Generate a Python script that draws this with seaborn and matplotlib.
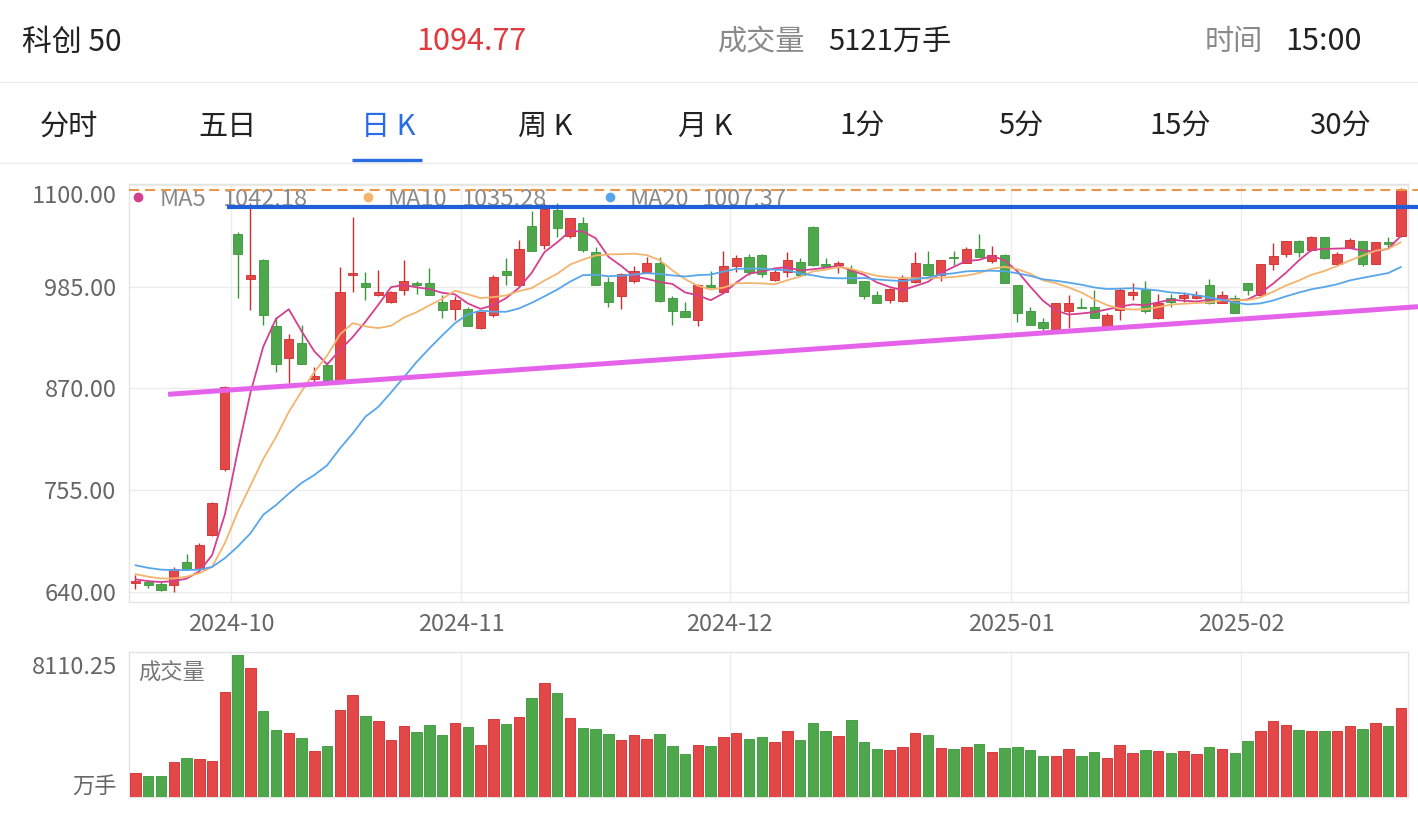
import numpy as np
import pandas as pd
import matplotlib
matplotlib.use("Agg")
import matplotlib.pyplot as plt
from matplotlib.lines import Line2D
import seaborn as sns

# ----------------------------------------------
# Data (科创50, daily K, 2024-09-19 .. 2025-02-21)
# ----------------------------------------------
open_ = [650, 651, 649, 648, 674, 666, 704, 779, 1045, 994,
         1015, 940, 904, 921, 880, 896, 879, 998, 989, 975,
         968, 981, 989, 989, 968, 960, 960, 938, 953, 1003,
         987, 1054, 1032, 1072, 1042, 1057, 1024, 990, 974, 991,
         1002, 1012, 972, 957, 947, 987, 979, 1008, 1018, 1021,
         992, 1002, 1013, 1052, 1010, 1009, 1004, 991, 975, 970,
         969, 990, 1011, 998, 1019, 1012, 1028, 1014, 1021, 987,
         957, 945, 937, 957, 962, 962, 940, 959, 976, 981,
         949, 972, 972, 972, 987, 966, 972, 989, 975, 1010,
         1022, 1036, 1026, 1041, 1011, 1030, 1036, 1010, 1035, 1042]
high = [659, 653, 651, 668, 683, 695, 742, 873, 1047, 1080,
        1016, 951, 931, 942, 894, 900, 1007, 1064, 1002, 1004,
        980, 1015, 991, 1006, 975, 974, 962, 957, 998, 1017,
        1038, 1070, 1080, 1079, 1062, 1064, 1030, 996, 1000, 1008,
        1019, 1018, 974, 968, 988, 1003, 1025, 1021, 1022, 1022,
        1004, 1024, 1017, 1053, 1017, 1014, 1009, 991, 980, 983,
        998, 1024, 1025, 1015, 1025, 1030, 1044, 1031, 1022, 987,
        962, 949, 966, 976, 972, 981, 955, 983, 989, 991,
        977, 977, 979, 980, 994, 980, 975, 989, 1011, 1034,
        1036, 1038, 1042, 1041, 1024, 1040, 1037, 1035, 1041, 1097]
low = [643, 644, 641, 640, 665, 665, 703, 776, 972, 958,
       942, 889, 876, 898, 877, 878, 878, 979, 970, 974,
       967, 975, 977, 975, 949, 947, 940, 937, 951, 987,
       985, 1025, 1028, 1041, 1040, 1024, 987, 962, 960, 989,
       1000, 968, 942, 951, 941, 983, 979, 1002, 998, 996,
       991, 996, 998, 1008, 1007, 1000, 989, 971, 966, 966,
       968, 989, 998, 991, 1009, 1012, 1018, 1012, 989, 945,
       942, 935, 936, 938, 961, 950, 940, 947, 970, 955,
       948, 962, 968, 971, 965, 966, 955, 975, 974, 1004,
       1019, 1019, 1025, 1016, 1009, 1030, 1008, 1010, 1027, 1041]
close = [652, 648, 642, 666, 666, 693, 740, 872, 1022, 998,
         953, 898, 926, 898, 884, 879, 979, 1000, 985, 979,
         979, 991, 987, 975, 958, 970, 940, 956, 996, 998,
         1028, 1025, 1073, 1051, 1062, 1026, 987, 968, 999, 1003,
         1012, 969, 957, 951, 987, 984, 1008, 1017, 1002, 999,
         1002, 1015, 998, 1009, 1008, 1012, 989, 974, 966, 982,
         994, 1012, 998, 1015, 1017, 1028, 1018, 1021, 989, 955,
         942, 938, 966, 966, 961, 950, 953, 981, 979, 957,
         966, 968, 975, 975, 966, 975, 955, 981, 1011, 1020,
         1036, 1024, 1041, 1017, 1022, 1038, 1011, 1035, 1033, 1094.77]
volume = [1374, 1221, 1183, 2004, 2233, 2175, 2061, 6011, 8110.25, 7404,
          4904, 3855, 3645, 3397, 2633, 2939, 5000, 5858, 4656, 4370,
          3244, 4046, 3721, 4141, 3568, 4217, 4007, 2958, 4446, 4160,
          4580, 5668, 6507, 5973, 4503, 3969, 3912, 3626, 3244, 3549,
          3340, 3626, 2901, 2481, 2996, 2901, 3416, 3683, 3340, 3454,
          3130, 3759, 3244, 4217, 3797, 3511, 4427, 3130, 2767, 2710,
          2862, 3683, 3530, 2824, 2767, 2843, 3034, 2595, 2824, 2843,
          2672, 2347, 2328, 2748, 2347, 2595, 2214, 2958, 2500, 2672,
          2633, 2500, 2653, 2443, 2843, 2748, 2500, 3206, 3759, 4370,
          4122, 3817, 3797, 3759, 3759, 4084, 3893, 4217, 4046, 5121]

# moving-average values before a full window exists
ma5_head = [654, 652, 651, 652]
ma10_head = [660, 657, 655, 655, 657, 661, 668, 695, 730]
ma20_head = [670, 667, 665, 664.5, 664.5, 665, 668, 678, 691, 706,
             727, 738, 751, 763, 772, 783, 802, 819, 838]

month_pos = [7.5, 25.5, 46.5, 68.5, 86.5]
month_labels = ['2024-10', '2024-11', '2024-12', '2025-01', '2025-02']
price_ticks = [640, 755, 870, 985, 1100]

# drawn annotation lines (index, price)
blue_line = ([7.2, 100.33], [1075.4, 1075.4])
trend_line = ([2.56, 100.33], [863.2, 962.3])

tabs = ['分时', '五日', '日 K', '周 K', '月 K', '1分', '5分', '15分', '30分']
tab_x = [69, 228, 388, 545, 705, 862, 1021, 1180, 1340]

# ----------------------------------------------
# Prep
# ----------------------------------------------
df = pd.DataFrame({'i': np.arange(len(close)), 'open': open_, 'high': high,
                   'low': low, 'close': close, 'volume': volume})
df['up'] = df['close'] >= df['open']

ma5 = df['close'].rolling(5).mean().to_numpy()
ma5[:4] = ma5_head
ma10 = df['close'].rolling(10).mean().to_numpy()
ma10[:9] = ma10_head
ma20 = df['close'].rolling(20).mean().to_numpy()
ma20[:19] = ma20_head
ma_df = pd.DataFrame({'i': df['i'], 'MA5': ma5, 'MA10': ma10, 'MA20': ma20})
ma_long = ma_df.melt('i', var_name='ma', value_name='v')

RED, GREEN = '#e34747', '#4ea74a'
RED_E, GREEN_E = '#cf2c2c', '#3a973a'
MA_COLORS = {'MA5': '#d53f8f', 'MA10': '#f2b46f', 'MA20': '#58a6ea'}
GRID = '#ececec'
LABEL = '#666666'

sns.set_style("white")
plt.rcParams['font.family'] = ['Noto Sans CJK SC', 'DejaVu Sans']

W, H = 1418, 814
fig = plt.figure(figsize=(W / 100, H / 100), dpi=100)
fig.patch.set_facecolor('white')


def fx(x):
    return x / W


def fy(y):
    return 1 - y / H


# ----------------------------------------------
# Header + tabs
# ----------------------------------------------
fig.text(fx(22), fy(42), '科创 50', fontsize=21.5, color='#222222', va='center')
fig.text(fx(471), fy(42), '1094.77', fontsize=22, color='#e0393e', va='center', ha='center')
fig.text(fx(718), fy(42), '成交量', fontsize=21, color='#8a8a8a', va='center')
fig.text(fx(828), fy(42), '5121万手', fontsize=21, color='#222222', va='center')
fig.text(fx(1205), fy(42), '时间', fontsize=21, color='#8a8a8a', va='center')
fig.text(fx(1285), fy(42), '15:00', fontsize=22, color='#222222', va='center')

for label, x in zip(tabs, tab_x):
    fig.text(fx(x), fy(127), label, fontsize=21, ha='center', va='center',
             color='#2a6de3' if label == '日 K' else '#222222')

fig.add_artist(Line2D([0, 1], [fy(82), fy(82)], color='#ececec', lw=1))
fig.add_artist(Line2D([0, 1], [fy(163), fy(163)], color='#ececec', lw=1))
fig.add_artist(Line2D([fx(352), fx(422)], [fy(159.5), fy(159.5)], color='#2a6de3',
                      lw=2.4, solid_capstyle='butt'))

# ----------------------------------------------
# K-line panel
# ----------------------------------------------
ax = fig.add_axes([fx(129), fy(602), fx(1408) - fx(129), (602 - 184) / H])

face = np.where(df['up'], RED, GREEN)
edge = np.where(df['up'], RED_E, GREEN_E)
body_lo = np.minimum(df['open'], df['close'])
body_h = np.maximum((df['close'] - df['open']).abs(), 1.3)
ax.vlines(df['i'], df['low'], df['high'], colors=edge, lw=1.0, zorder=3)
ax.bar(df['i'], body_h, bottom=body_lo, width=0.72, color=face, edgecolor=edge,
       linewidth=0.6, zorder=4)

sns.lineplot(data=ma_long, x='i', y='v', hue='ma', palette=MA_COLORS, lw=1.3,
             legend=False, ax=ax, zorder=5)

# hand-drawn lines on the chart
ax.plot([-0.5, 100.33], [close[-1], close[-1]], color='#e9984a', lw=1.5,
        ls=(0, (4.8, 2.9)), zorder=7, clip_on=False)
ax.plot(*blue_line, color='#1f5fd9', lw=3.0, zorder=8, clip_on=False,
        solid_capstyle='butt')
ax.plot(*trend_line, color='#e463ea', lw=3.6, zorder=8, clip_on=False,
        solid_capstyle='butt')

ax.set_xlim(-0.5, 99.55)
ax.set_ylim(628.4, 1101)
ax.set_xticks(month_pos)
ax.set_xticklabels(month_labels)
ax.set_yticks(price_ticks)
ax.set_yticklabels([f'{v:.2f}' for v in price_ticks])
ax.get_yticklabels()[-1].set_verticalalignment('top')
ax.tick_params(length=0, labelsize=17, labelcolor=LABEL)
ax.tick_params(axis='y', pad=9)
ax.tick_params(axis='x', pad=8)
ax.grid(True, color=GRID, lw=1)
ax.set_axisbelow(True)
ax.set_xlabel('')
ax.set_ylabel('')
for s in ax.spines.values():
    s.set_color('#e4e4e4')
    s.set_linewidth(1)

# MA legend row
legend_items = [(138, 160, 'MA5', '1042.18', 223),
                (368, 388, 'MA10', '1035.28', 462),
                (610, 630, 'MA20', '1007.37', 702)]
for (dot_x, name_x, name, val, val_x), key in zip(legend_items, MA_COLORS):
    ax.plot([fx(dot_x)], [fy(197)], 'o', ms=6, color=MA_COLORS[key],
            transform=fig.transFigure, clip_on=False, zorder=6)
    ax.text(fx(name_x), fy(199), name, transform=fig.transFigure, fontsize=17,
            color='#8a8a8a', va='center', zorder=6)
    ax.text(fx(val_x), fy(199), val, transform=fig.transFigure, fontsize=17,
            color='#8a8a8a', va='center', zorder=6)

# ----------------------------------------------
# Volume panel
# ----------------------------------------------
axv = fig.add_axes([fx(129), fy(797), fx(1408) - fx(129), (797 - 652) / H])
sns.barplot(data=df, x='i', y='volume', hue='up', palette={True: RED, False: GREEN},
            dodge=False, legend=False, width=0.82, saturation=1, linewidth=0.6,
            ax=axv, zorder=3)
for p in axv.patches:
    fc = matplotlib.colors.to_hex(p.get_facecolor())
    p.set_edgecolor(RED_E if fc == RED else GREEN_E)

axv.set_xlim(-0.5, 99.55)
axv.set_ylim(0, 8300)
axv.set_xticks(month_pos)
axv.set_yticks([])
axv.tick_params(length=0, labelbottom=False)
axv.xaxis.grid(True, color=GRID, lw=1)
axv.set_axisbelow(True)
axv.set_xlabel('')
axv.set_ylabel('')
for s in axv.spines.values():
    s.set_color('#e4e4e4')
    s.set_linewidth(1)

axv.text(fx(138), fy(673), '成交量', transform=fig.transFigure, fontsize=16,
         color='#777777', va='center')
fig.text(fx(117), fy(667), '8110.25', fontsize=17, color=LABEL, ha='right', va='center')
fig.text(fx(117), fy(786), '万手', fontsize=16, color=LABEL, ha='right', va='center')

fig.savefig('out.png', dpi=100, facecolor='white')
